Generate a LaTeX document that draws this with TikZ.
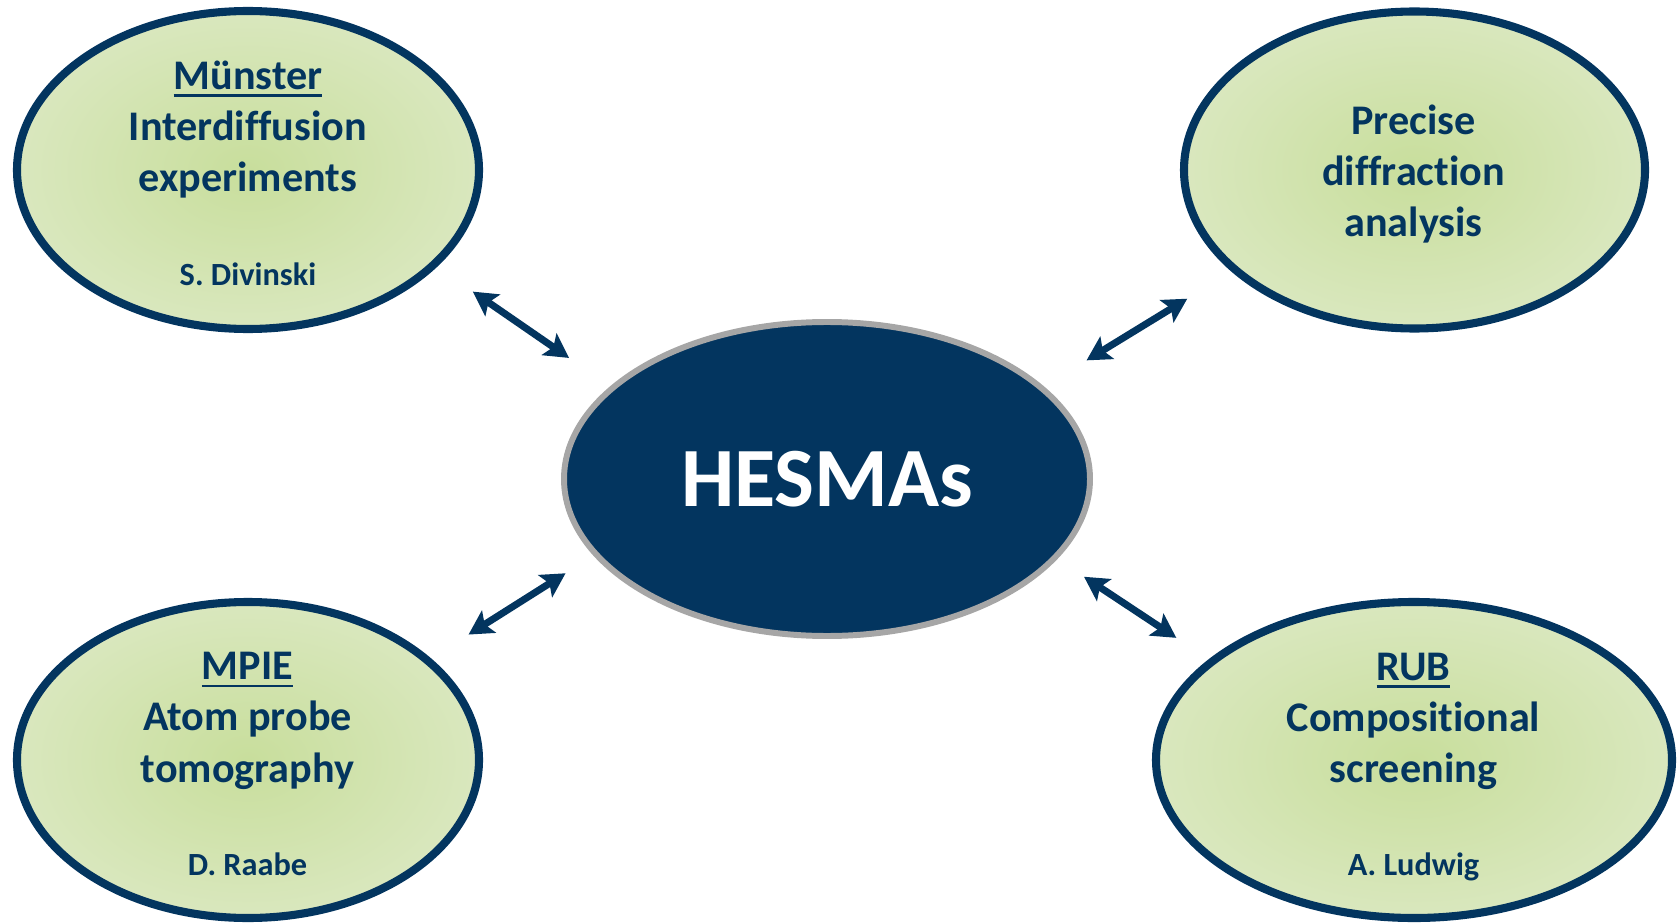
\documentclass[tikz,border=0pt]{standalone}
\usepackage{fontspec}
\setmainfont{Carlito}[Ligatures=NoCommon]
\usepackage{tikz}
\usepackage{xcolor}
\usetikzlibrary{shapes.geometric, arrows.meta, positioning}
\definecolor{HesNavy}{HTML}{03355F}
\definecolor{HesGray}{HTML}{A6A6A6}
\definecolor{HesWhite}{HTML}{ffffff}
\definecolor{HesGreenIn}{HTML}{C8DE9C}
\definecolor{HesGreenOut}{HTML}{E5EED5}
\pgfdeclareradialshading{hesglow}{\pgfpoint{0bp}{0bp}}{color(0bp)=(HesGreenIn); color(42bp)=(HesGreenOut)}
\newcommand{\hesname}[1]{{\fontsize{9.2}{10}\selectfont #1}}
\newcommand{\hesul}[1]{\setbox0\hbox{#1}\rlap{\rule[-2.2pt]{\wd0}{0.8pt}}\box0}
\tikzset{
    % Node styles
    topicbox/.style={
        ellipse,
        draw=HesNavy,
        shading=hesglow,
        line width=2.3pt,
        inner sep=0pt,
        outer sep=0pt
    },
    hubbox/.style={
        ellipse,
        draw=HesGray,
        fill=HesNavy,
        line width=1.7pt,
        minimum width=5.26cm,
        minimum height=3.14cm,
        inner sep=0pt,
        outer sep=0pt,
        text=HesWhite,
        font=\fontsize{24}{28}\selectfont\bfseries
    },
    topictext/.style={
        align=center,
        inner sep=0pt,
        text=HesNavy,
        font=\fontsize{12}{14.6}\selectfont\bfseries
    },
    % Arrow styles
    dblarrow/.style={
        <->,
        >={Stealth[length=2.4mm, width=2.6mm, inset=0.5mm]},
        line width=2pt,
        HesNavy
    }
}

\begin{document}
\begin{tikzpicture}
    \useasboundingbox (0,0) rectangle (16.77,9.23);

    % Centre
    \node[hubbox] (hesma) at (8.27,4.44) {HESMAs};

    % Partners
    \node[topicbox, minimum width=4.62cm, minimum height=3.18cm] (munster) at (2.48,7.53) {};
    \node[topicbox, minimum width=4.61cm, minimum height=3.17cm] (precise) at (14.145,7.53) {};
    \node[topicbox, minimum width=4.62cm, minimum height=3.16cm] (mpie) at (2.48,1.63) {};
    \node[topicbox, minimum width=5.16cm, minimum height=3.16cm] (rub) at (14.14,1.63) {};

    \node[topictext] (munstertext) at (2.48,7.50) {\hesul{Münster}\\ Interdiffusion\\ experiments\\[11.9pt] \hesname{S. Divinski}};
    \node[topictext] (precisetext) at (14.135,7.49) {Precise\\ diffraction\\ analysis};
    \node[topictext] (mpietext) at (2.475,1.59) {\hesul{MPIE}\\ Atom probe\\ tomography\\[11.9pt] \hesname{D. Raabe}};
    \node[topictext] (rubtext) at (14.135,1.56) {\hesul{RUB}\\ Compositional\\ screening\\[11.9pt] \hesname{A. Ludwig}};

    % Arrows
    \draw[dblarrow, shorten <=4.76mm, shorten >=5.3mm] (munster.333.6) -- (hesma.157.75);
    \draw[dblarrow, shorten <=5.6mm, shorten >=5.3mm] (precise.209.3) -- (hesma.23.0);
    \draw[dblarrow, shorten <=4.86mm, shorten >=3.6mm] (mpie.29.8) -- (hesma.198.95);
    \draw[dblarrow, shorten <=4.3mm, shorten >=3.5mm] (rub.154.4) -- (hesma.341.7);
\end{tikzpicture}
\end{document}
